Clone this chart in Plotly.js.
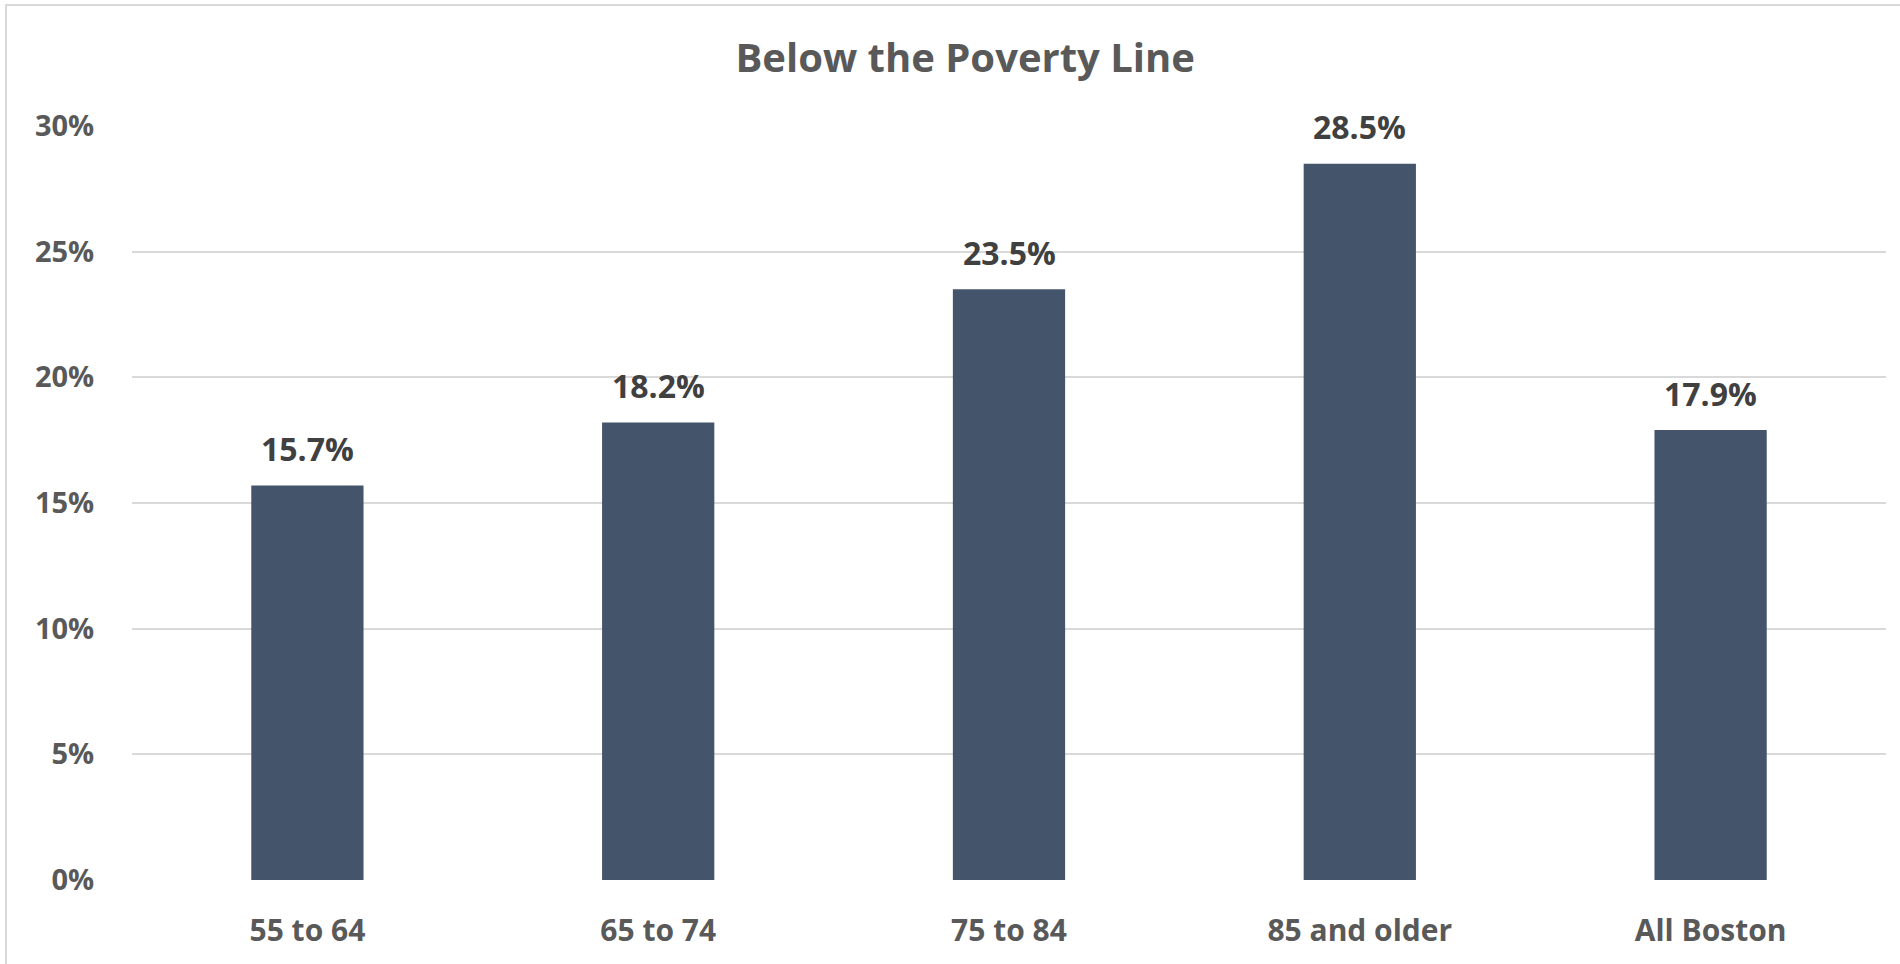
<!DOCTYPE html>
<html>
<head>
<meta charset="utf-8">
<script src="https://cdn.plot.ly/plotly-3.0.1.min.js"></script>
<style>
html,body{margin:0;padding:0;background:#fff;overflow:hidden;}
#chart{width:1900px;height:964px;}
#frame{position:absolute;left:5px;top:4px;width:2000px;height:1100px;border:2px solid #d9d9d9;pointer-events:none;box-sizing:border-box;}
</style>
</head>
<body>
<div id="chart"></div>
<div id="frame"></div>
<script>
const categories = ["55 to 64", "65 to 74", "75 to 84", "85 and older", "All Boston"];
const values = [15.7, 18.2, 23.5, 28.5, 17.9];
const yTickValues = [0, 5, 10, 15, 20, 25, 30];
const titleText = "Below the Poverty Line";

const FONT = "'Open Sans', Lato, sans-serif";

const trace = {
  type: "bar",
  x: categories,
  y: values,
  marker: {color: "#44546A"},
  hoverinfo: "skip"
};

const annotations = categories.map((c, i) => ({
  x: c, y: values[i], xref: "x", yref: "y",
  text: values[i].toFixed(1) + "%",
  showarrow: false, yanchor: "middle", yshift: 37,
  font: {family: FONT, size: 32, color: "#404040", weight: 700}
}));

const layout = {
  width: 1900, height: 964,
  paper_bgcolor: "#ffffff", plot_bgcolor: "#ffffff",
  margin: {l: 132, r: 14, t: 126, b: 84},
  showlegend: false,
  bargap: 0.68,
  title: {
    text: "<b>" + titleText + "</b>",
    x: 0.508, xanchor: "center", y: 0.94, yanchor: "middle",
    font: {family: FONT, size: 40, color: "#595959"}
  },
  xaxis: {
    type: "category",
    showgrid: false, zeroline: false, showline: false,
    ticks: "outside", ticklen: 24, tickcolor: "rgba(0,0,0,0)",
    tickfont: {family: FONT, size: 30, color: "#595959", weight: 700}
  },
  yaxis: {
    range: [0, 30],
    tickvals: yTickValues,
    ticktext: yTickValues.map(v => v + "%"),
    showgrid: true, gridcolor: "#d9d9d9", gridwidth: 2,
    zeroline: false, showline: false,
    ticks: "outside", ticklen: 31, tickcolor: "rgba(0,0,0,0)",
    tickfont: {family: FONT, size: 29, color: "#595959", weight: 700}
  },
  annotations: annotations
};

Plotly.newPlot("chart", [trace], layout, {staticPlot: true, displayModeBar: false});
</script>
</body>
</html>
